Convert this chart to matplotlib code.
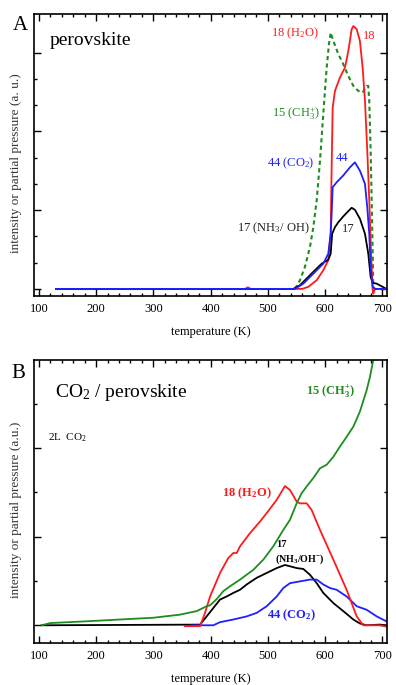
import matplotlib
matplotlib.use("Agg")
import matplotlib.pyplot as plt
from matplotlib.ticker import MultipleLocator, FixedLocator, NullFormatter

plt.rcParams["font.family"] = ["Liberation Serif", "DejaVu Serif"]
plt.rcParams["mathtext.fontset"] = "custom"
plt.rcParams["mathtext.rm"] = "Liberation Serif"
plt.rcParams["mathtext.it"] = "Liberation Serif:italic"
plt.rcParams["mathtext.bf"] = "Liberation Serif:bold"

# ---- panel A: perovskite (arbitrary units) ----
a_h2o_T = [130, 460, 465, 470, 560, 570.6, 585.2, 596.7, 605.4, 609.6, 611.3, 613.1, 617.1, 625.8,
           634.6, 640.4, 646.3, 649.2, 655, 660.7, 665.4, 669.5, 673.5, 677, 680, 682.9, 684, 686.9, 707]
a_h2o_I = [0, 0, 0.06, 0, 0, 0.08, 0.33, 0.71, 1.09, 2.1, 4.63, 6.91, 7.54, 8.05,
           8.43, 9.06, 9.89, 10.01, 9.89, 9.44, 8.43, 7.16, 5.27, 3.37, 1.47, -0.05, -0.18, 0, 0]

a_co2_T = [130, 547.3, 561.8, 579.3, 596.7, 605.4, 609.6, 611.3, 613.1, 620, 631.6, 643.3,
           652, 660.7, 669.5, 673.5, 677, 679.4, 682.9, 686.9, 707]
a_co2_I = [0, 0, 0.2, 0.58, 0.96, 1.34, 2.1, 2.86, 3.87, 4.06, 4.32, 4.63,
           4.82, 4.5, 4.0, 3.11, 2.1, 0.84, 0.08, 0, 0]

a_ch3_T = [547.3, 556, 564.7, 573.4, 579.3, 585.2, 591, 596.7, 602.6, 606.6, 609.6, 614.3, 623,
           631.6, 640.4, 649.2, 657.8, 665.4, 672.4, 675.2, 677, 679.4, 681.2, 682.9, 684, 686.9]
a_ch3_I = [0, 0.33, 0.84, 1.59, 2.35, 3.37, 4.89, 6.66, 8.43, 9.32, 9.76, 9.44, 8.94,
           8.56, 8.11, 7.73, 7.54, 7.48, 7.73, 7.73, 7.16, 5.27, 3.37, 1.47, 0.08, 0]

a_nh3_T = [130, 544.4, 556, 579.3, 593.9, 605.4, 609.6, 612.2, 617.1, 623, 631.6, 640.4, 646.3,
           652, 660.7, 669.5, 675.3, 679.4, 682.9, 690, 698.6, 707]
a_nh3_I = [0, 0, 0.14, 0.65, 0.96, 1.11, 1.34, 2.1, 2.35, 2.54, 2.76, 2.96, 3.09,
           3.01, 2.67, 2.1, 1.34, 0.46, 0.23, 0.2, 0.1, 0]

# ---- panel B: CO2 / perovskite ----
b_ch3_T = [105, 119.7, 183.8, 241.9, 300, 346.6, 375.7, 393, 399, 410.6, 422.2, 433.9, 451.3,
           474.5, 492, 509.4, 526.9, 538.6, 550.2, 559, 567.7, 579.3, 591, 602.6, 614.3,
           625.8, 637.5, 649.2, 660.7, 672.4, 678.2, 684, 690]
b_ch3_I = [0, 0.05, 0.09, 0.13, 0.17, 0.24, 0.32, 0.43, 0.45, 0.59, 0.77, 0.88, 1.03,
           1.25, 1.48, 1.78, 2.15, 2.38, 2.75, 2.98, 3.13, 3.32, 3.54, 3.62, 3.80,
           4.03, 4.25, 4.48, 4.82, 5.30, 5.60, 5.98, 6.5]

b_h2o_T = [355.3, 381.5, 390.2, 399, 416.4, 430.9, 439.6, 445.5, 451.3, 468.8, 486.2, 497.9,
           515.4, 529.8, 538.6, 550.2, 556, 567.7, 576.4, 591, 614.3, 637.5, 655, 666.5, 695.6, 707]
b_h2o_I = [-0.02, -0.02, 0.28, 0.65, 1.18, 1.52, 1.63, 1.63, 1.78, 2.08, 2.34, 2.53,
           2.83, 3.14, 3.05, 2.79, 2.75, 2.75, 2.60, 2.15, 1.48, 0.80, 0.20, 0, 0, -0.03]

b_nh3_T = [105, 381.5, 393, 404.7, 416.4, 428, 439.6, 451.3, 462.9, 480.4, 497.9, 515.4, 529.8,
           538.6, 550.2, 561.8, 573.4, 585.2, 596.7, 614.3, 631.6, 649.2, 660.7, 672.4, 695.6, 707]
b_nh3_I = [0, 0.015, 0.2, 0.39, 0.58, 0.65, 0.73, 0.80, 0.92, 1.07, 1.18, 1.29, 1.36,
           1.33, 1.29, 1.27, 1.14, 0.95, 0.73, 0.50, 0.32, 0.13, 0.04, 0, 0.015, 0]

b_co2_T = [355.3, 370, 404.7, 416.4, 439.6, 462.9, 480.4, 497.9, 515.4, 526.9, 538.6, 556,
           573.4, 585.2, 596.7, 608.4, 620, 637.5, 655, 672.4, 690, 707]
b_co2_I = [-0.02, 0, 0, 0.07, 0.13, 0.2, 0.28, 0.43, 0.65, 0.84, 0.95, 0.99,
           1.03, 1.03, 0.92, 0.84, 0.80, 0.65, 0.43, 0.35, 0.2, 0.09]

x_major = [100, 200, 300, 400, 500, 600, 700]

RED = "#ff1a1a"
BLUE = "#1f1fff"
GREEN = "#1e8c1e"
LW = 1.3

fig = plt.figure(figsize=(3.96, 6.85), dpi=100)
axA = fig.add_axes([0.0866, 0.5679, 0.8907, 0.4117])
axB = fig.add_axes([0.0866, 0.0613, 0.8907, 0.4130])


def style_axis(ax, ylim, y_major, y_minor):
    ax.set_xlim(92, 708)
    ax.set_ylim(*ylim)
    ax.xaxis.set_major_locator(FixedLocator(x_major))
    ax.xaxis.set_minor_locator(MultipleLocator(20))
    ax.yaxis.set_major_locator(FixedLocator(y_major))
    ax.yaxis.set_minor_locator(FixedLocator(y_minor))
    ax.yaxis.set_major_formatter(NullFormatter())
    ax.tick_params(which="both", direction="in", top=True, right=True, width=1.0)
    ax.tick_params(which="major", length=5)
    ax.tick_params(which="minor", length=2.5)
    ax.tick_params(axis="x", labelsize=9, pad=5)
    for sp in ax.spines.values():
        sp.set_linewidth(1.2)
    ax.set_xlabel("temperature (K)", fontsize=9, labelpad=8)


# 图 A
axA.plot(a_ch3_T, a_ch3_I, color=GREEN, lw=1.5, ls=(0, (2, 1.6)))
axA.plot(a_h2o_T, a_h2o_I, color=RED, lw=LW)
axA.plot(a_nh3_T, a_nh3_I, color="black", lw=LW)
axA.plot(a_co2_T, a_co2_I, color=BLUE, lw=LW)
style_axis(axA, (-0.27, 10.47), [0, 3, 6, 9], [1, 2, 4, 5, 7, 8])
axA.set_ylabel("intensity or partial pressure (a. u.)", fontsize=9.5, color="#333333")
axA.yaxis.set_label_coords(-0.035, 0.47)

axA.text(118, 9.45, "perovskite", fontsize=14, va="center", ha="left")
axA.text(547, 9.72, "18 (H$_\\mathrm{2}$O)", color=RED, fontsize=9, ha="center", va="center")
axA.text(676, 9.65, "18", color=RED, fontsize=9, ha="center", va="center")
axA.text(549, 6.67, "15 (CH$_\\mathrm{3}^{+}$)", color=GREEN, fontsize=9, ha="center", va="center")
axA.text(539, 4.77, "44 (CO$_\\mathrm{2}$)", color=BLUE, fontsize=9, ha="center", va="center")
axA.text(629, 5.0, "44", color=BLUE, fontsize=9, ha="center", va="center")
axA.text(509, 2.3, "17 (NH$_\\mathrm{3}$/ OH)", color="#222222", fontsize=9, ha="center", va="center")
axA.text(641, 2.3, "17", color="#222222", fontsize=9, ha="center", va="center")

# 图 B
axB.plot(b_nh3_T, b_nh3_I, color="black", lw=LW)
axB.plot(b_co2_T, b_co2_I, color=BLUE, lw=LW)
axB.plot(b_h2o_T, b_h2o_I, color=RED, lw=LW)
axB.plot(b_ch3_T, b_ch3_I, color=GREEN, lw=LW)
style_axis(axB, (-0.4, 5.98), [0, 2, 4], [1, 3, 5])
axB.set_ylabel("intensity or partial pressure (a.u.)", fontsize=9.5, color="#333333")
axB.yaxis.set_label_coords(-0.035, 0.47)

axB.text(128, 5.26, "CO$_\\mathrm{2}$ / perovskite", fontsize=14, va="center", ha="left")
axB.text(116, 4.23, "2L  CO$_\\mathrm{2}$", fontsize=8, va="center", ha="left")
bold = dict(fontsize=9, fontweight="bold", ha="center", va="center")
axB.text(609, 5.27, "15 (CH$_\\mathbf{3}^{\\mathbf{+}}$)", color=GREEN, **bold)
axB.text(463, 2.98, "18 (H$_\\mathbf{2}$O)", color=RED, **bold)
axB.text(541, 0.22, "44 (CO$_\\mathbf{2}$)", color=BLUE, **bold)
axB.text(524, 1.82, "17", color="black", fontsize=7.5, fontweight="bold", ha="center", va="center")
axB.text(556, 1.48, "(NH$_\\mathbf{3}$/OH$^{\\mathbf{-}}$)", color="black", fontsize=7.2,
         fontweight="bold", ha="center", va="center")

fig.text(20 / 396, 1 - 25 / 685, "A", fontsize=15, ha="center", va="center")
fig.text(18 / 396, 1 - 373 / 685, "B", fontsize=15, ha="center", va="center")

fig.savefig("out.png", dpi=100)
